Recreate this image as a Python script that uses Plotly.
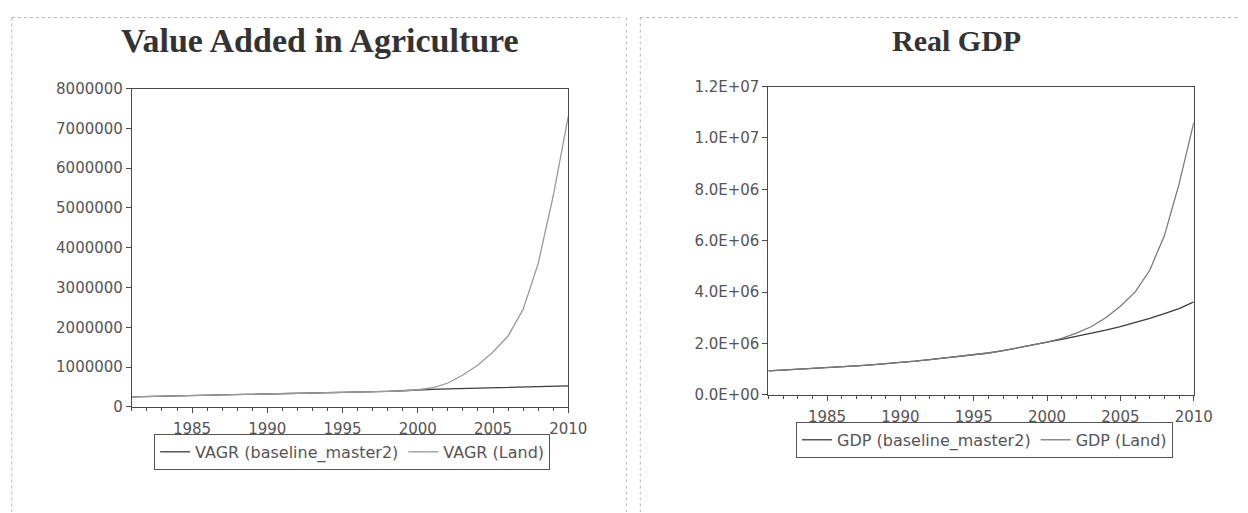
import plotly.graph_objects as go

years = list(range(1981, 2011))

vagr_baseline = [250000, 258000, 265000, 272000, 280000, 285000, 290000, 296000, 302000, 310000,
                 320000, 330000, 340000, 348000, 356000, 365000, 376000, 390000, 405000, 430000,
                 440000, 450000, 460000, 470000, 480000, 490000, 500000, 510000, 520000, 530000]
vagr_land = [250000, 258000, 265000, 272000, 280000, 285000, 290000, 296000, 302000, 310000,
             320000, 330000, 340000, 348000, 356000, 365000, 376000, 390000, 405000, 430000,
             480000, 600000, 800000, 1050000, 1380000, 1780000, 2450000, 3600000, 5300000, 7300000]

gdp_baseline = [930000, 960000, 990000, 1020000, 1050000, 1090000, 1130000, 1170000, 1210000, 1260000,
                1310000, 1370000, 1430000, 1490000, 1560000, 1630000, 1720000, 1820000, 1930000, 2050000,
                2160000, 2270000, 2390000, 2520000, 2660000, 2810000, 2980000, 3160000, 3360000, 3620000]
gdp_land = [930000, 960000, 990000, 1020000, 1050000, 1090000, 1130000, 1170000, 1210000, 1260000,
            1310000, 1370000, 1430000, 1490000, 1560000, 1630000, 1720000, 1820000, 1930000, 2050000,
            2200000, 2400000, 2650000, 3000000, 3450000, 4000000, 4850000, 6200000, 8200000, 10600000]

x_tickvals = [1985, 1990, 1995, 2000, 2005, 2010]
left_ytickvals = [0, 1000000, 2000000, 3000000, 4000000, 5000000, 6000000, 7000000, 8000000]
left_yticktext = ["0", "1000000", "2000000", "3000000", "4000000", "5000000", "6000000", "7000000", "8000000"]
right_ytickvals = [0, 2000000, 4000000, 6000000, 8000000, 10000000, 12000000]
right_yticktext = ["0.0E+00", "2.0E+06", "4.0E+06", "6.0E+06", "8.0E+06", "1.0E+07", "1.2E+07"]

W, H = 1248, 513
# calibration between figure pixels and the photographed page
SX, CX = 0.984, 8.2
SY, CY = 0.964, 16.5
def px(x):
    return min(max((x - CX) / SX / W, 0.0), 1.0)
def py(y):
    return min(max(1 - (y - CY) / SY / H, 0.0), 1.0)

TXT = "#555555"
AX = "#4a4a4a"
tickfont = dict(family="DejaVu Sans", size=15, color=TXT)

fig = go.Figure()
fig.add_trace(go.Scatter(x=years, y=vagr_baseline, mode="lines", name="VAGR (baseline_master2)",
                         line=dict(color="#3c3c3c", width=1.3), xaxis="x", yaxis="y", legend="legend"))
fig.add_trace(go.Scatter(x=years, y=vagr_land, mode="lines", name="VAGR (Land)",
                         line=dict(color="#9a9a9a", width=1.3), xaxis="x", yaxis="y", legend="legend"))
fig.add_trace(go.Scatter(x=years, y=gdp_baseline, mode="lines", name="GDP (baseline_master2)",
                         line=dict(color="#3c3c3c", width=1.3), xaxis="x2", yaxis="y2", legend="legend2"))
fig.add_trace(go.Scatter(x=years, y=gdp_land, mode="lines", name="GDP (Land)",
                         line=dict(color="#7a7a7a", width=1.3), xaxis="x2", yaxis="y2", legend="legend2"))

def xax(domain, anchor):
    return dict(domain=domain, anchor=anchor, range=[1981, 2010], tickvals=x_tickvals,
                showline=True, linecolor=AX, linewidth=1, mirror=True, ticks="outside", ticklen=5,
                tickcolor=AX, showgrid=False, zeroline=False, tickfont=tickfont, ticklabelstandoff=3,
                minor=dict(dtick=1, tick0=1981, ticks="outside", ticklen=3, tickcolor=AX, showgrid=False))

def yax(domain, anchor, rng, vals, text):
    return dict(domain=domain, anchor=anchor, range=rng, tickvals=vals, ticktext=text,
                showline=True, linecolor=AX, linewidth=1, mirror=True, ticks="outside", ticklen=5,
                tickcolor=AX, showgrid=False, zeroline=False, tickfont=tickfont)

legend_common = dict(orientation="h", bordercolor="#555555", borderwidth=1, bgcolor="white",
                     font=dict(family="DejaVu Sans", size=16, color=TXT),
                     xanchor="center", yanchor="top", tracegroupgap=0)

fig.update_layout(
    width=W, height=H, margin=dict(l=0, r=0, t=0, b=0),
    paper_bgcolor="white", plot_bgcolor="white",
    xaxis=xax([px(132), px(568)], "y"),
    yaxis=yax([py(406), py(88)], "x", [0, 8000000], left_ytickvals, left_yticktext),
    xaxis2=xax([px(768), px(1193)], "y2"),
    yaxis2=yax([py(394), py(86)], "x2", [0, 12000000], right_ytickvals, right_yticktext),
    legend=dict(x=px(352), y=py(433), **legend_common),
    legend2=dict(x=px(984), y=py(421), **legend_common),
    showlegend=True,
)

fig.add_annotation(x=px(320), y=py(40), xref="paper", yref="paper", text="Value Added in Agriculture",
                   showarrow=False, xanchor="center", yanchor="middle",
                   font=dict(family="Liberation Serif, Times New Roman", size=34, color="#333333", weight="bold"))
fig.add_annotation(x=px(956), y=py(40), xref="paper", yref="paper", text="Real GDP",
                   showarrow=False, xanchor="center", yanchor="middle",
                   font=dict(family="Liberation Serif, Times New Roman", size=30, color="#333333", weight="bold"))

border = dict(color="#b5b5b5", width=1, dash="dot")
bottom = py(513)
for x0, x1 in [(12, 620), (640, 1248)]:
    fig.add_shape(type="line", xref="paper", yref="paper", x0=px(x0), x1=px(x1), y0=py(17), y1=py(17), line=border)
    fig.add_shape(type="line", xref="paper", yref="paper", x0=px(x0), x1=px(x0), y0=py(17), y1=bottom, line=border)
fig.add_shape(type="line", xref="paper", yref="paper", x0=px(626), x1=px(626), y0=py(17), y1=bottom, line=border)

fig.write_html("out.html")
